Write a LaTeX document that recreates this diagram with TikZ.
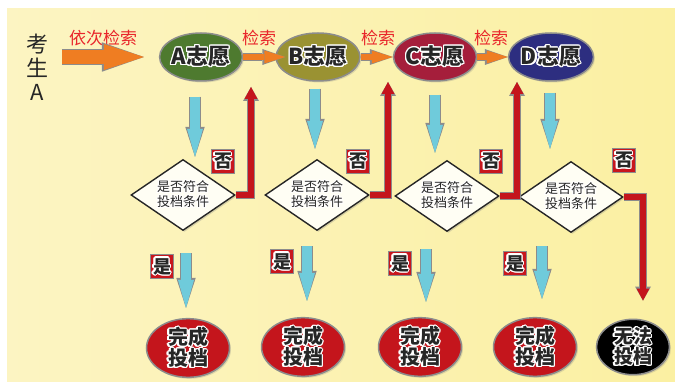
\documentclass[tikz,border=0pt]{standalone}
\usepackage{fontspec}
\setmainfont{Noto Sans CJK SC}
\usepackage{contour}
\contourlength{1.1pt}
\usetikzlibrary{shapes.geometric,arrows.meta,shadows}

\definecolor{bgleft}{HTML}{FCF4C2}
\definecolor{bgmid}{HTML}{FFFEF4}
\definecolor{bgright}{HTML}{FBF0A2}
\definecolor{wishA}{HTML}{4E7A2F}
\definecolor{wishB}{HTML}{9A9232}
\definecolor{wishC}{HTML}{A51E3B}
\definecolor{wishD}{HTML}{2D2E80}
\definecolor{okred}{HTML}{C4151C}
\definecolor{tagred}{HTML}{C8161D}
\definecolor{redtext}{HTML}{E9262B}
\definecolor{arrorange}{HTML}{EF7D22}
\definecolor{arrblue}{HTML}{6FCBDB}
\definecolor{edgegray}{HTML}{8C8C8C}

\tikzset{
  wish/.style={ellipse, draw=edgegray, line width=1.5pt, minimum width=78pt,
    minimum height=48pt, inner sep=0pt, text=black!85,
    font=\fontsize{22}{24}\selectfont\bfseries,
    drop shadow={opacity=0.25, shadow xshift=1.5pt, shadow yshift=-1.5pt}},
  check/.style={diamond, aspect=1.45, draw=black!85, line width=1.4pt,
    fill=bgmid, minimum width=104pt, minimum height=71pt, inner sep=0pt,
    align=center, text=black!85, font=\fontsize{13}{15}\selectfont,
    drop shadow={opacity=0.3, shadow xshift=1.5pt, shadow yshift=-1.5pt}},
  result/.style={ellipse, draw=edgegray, line width=1.5pt, minimum width=83pt,
    minimum height=50pt, inner sep=0pt, align=center, text=black!85,
    font=\fontsize{20}{21}\selectfont\bfseries,
    drop shadow={opacity=0.25, shadow xshift=1.5pt, shadow yshift=-1.5pt}},
  tag/.style={rectangle, fill=tagred, draw=edgegray, line width=1pt,
    minimum width=23pt, minimum height=24pt, inner sep=0pt, text=black!85,
    font=\fontsize{18}{18}\selectfont\bfseries},
  redlabel/.style={text=redtext, font=\fontsize{17}{18}\selectfont},
  bigarrow/.style={draw=arrorange, line width=14pt,
    -{Triangle[length=40pt, width=26pt, line width=0pt]},
    preaction={draw=edgegray, line width=16.5pt,
      -{Triangle[length=42pt, width=29.5pt, line width=0pt]}}},
  smallarrow/.style={draw=arrorange, line width=5.5pt,
    -{Triangle[length=21pt, width=13pt, line width=0pt]},
    preaction={draw=edgegray, line width=7.5pt,
      -{Triangle[length=23pt, width=16pt, line width=0pt]}}},
  downarrow/.style={draw=arrblue, line width=10pt,
    -{Triangle[length=28pt, width=16pt, line width=0pt]},
    preaction={draw=edgegray, line width=12.4pt,
      -{Triangle[length=30pt, width=19.5pt, line width=0pt]}}},
  backarrow/.style={draw=okred, line width=5.5pt,
    -{Triangle[length=12pt, width=13pt, line width=0pt]},
    preaction={draw=edgegray, line width=7.5pt,
      -{Triangle[length=14pt, width=16pt, line width=0pt]}}}
}

\begin{document}
\begin{tikzpicture}[x=1pt, y=-1pt]
  % canvas
  \useasboundingbox (0,0) rectangle (675,382);
  \fill[white] (0,0) rectangle (675,382);
  \shade[left color=bgleft, middle color=bgmid, right color=bgright]
    (7,9) rectangle (675,382);

  % candidate
  \node (stu) [align=center, text=black!85, font=\fontsize{22}{24}\selectfont]
    at (37,67) {考\\生\\A};
  \node (order) [redlabel] at (103,38) {依次检索};

  % wishes
  \node (A) [wish, fill=wishA] at (201,57) {\contour{white}{A志愿}};
  \node (B) [wish, fill=wishB] at (318,57) {\contour{white}{B志愿}};
  \node (C) [wish, fill=wishC] at (435,57) {\contour{white}{C志愿}};
  \node (D) [wish, fill=wishD] at (551,57) {\contour{white}{D志愿}};

  \node (sAB) [redlabel] at (259,38) {检索};
  \node (sBC) [redlabel] at (378,38) {检索};
  \node (sCD) [redlabel] at (491,38) {检索};

  % checks
  \node (dA) [check] at (183,195) {\contour{white}{是否符合}\\\contour{white}{投档条件}};
  \node (dB) [check] at (317,195) {\contour{white}{是否符合}\\\contour{white}{投档条件}};
  \node (dC) [check] at (447,196) {\contour{white}{是否符合}\\\contour{white}{投档条件}};
  \node (dD) [check] at (571,197) {\contour{white}{是否符合}\\\contour{white}{投档条件}};

  % outcomes
  \node (okA) [result, fill=okred] at (188,348) {\contour{white}{完成}\\\contour{white}{投档}};
  \node (okB) [result, fill=okred] at (303,347) {\contour{white}{完成}\\\contour{white}{投档}};
  \node (okC) [result, fill=okred] at (420,347) {\contour{white}{完成}\\\contour{white}{投档}};
  \node (okD) [result, fill=okred] at (535,347) {\contour{white}{完成}\\\contour{white}{投档}};
  \node (fail) [result, fill=black, minimum width=73pt, minimum height=40pt,
    font=\fontsize{19}{20}\selectfont\bfseries] at (633,347) {\contour{white}{无法}\\\contour{white}{投档}};

  % search arrows
  \coordinate (go) at (62,57);
  \draw[bigarrow] (go) -- ([xshift=-15pt]A.west);
  \draw[smallarrow] (A.east) -- ([xshift=10pt]B.west);
  \draw[smallarrow] (B.east) -- (C.west);
  \draw[smallarrow] (C.east) -- (D.west);

  \draw[downarrow, shorten <=15pt, shorten >=2pt] ([xshift=-6pt]A.south) -- ([xshift=12pt]dA.north);
  \draw[downarrow, shorten <=7pt, shorten >=10pt] ([xshift=-3pt]B.south) -- ([xshift=-2pt]dB.north);
  \draw[downarrow, shorten <=13pt, shorten >=7pt] (C.south) -- ([xshift=-12pt]dC.north);
  \draw[downarrow, shorten <=11pt, shorten >=12pt] ([xshift=-1pt]D.south) -- ([xshift=-21pt]dD.north);

  % no -> next wish
  \coordinate (backA) at (251,87);
  \coordinate (backB) at (388,82);
  \coordinate (backC) at (517,82);
  \draw[backarrow] (dA.east) -| (backA);
  \draw[backarrow] (dB.east) -| (backB);
  \draw[backarrow] (dC.east) -| (backC);
  \draw[backarrow] (dD.east) -| ([xshift=10pt, yshift=18pt]fail.north);

  % yes -> done
  \draw[downarrow, shorten <=22pt, shorten >=10pt] ([xshift=3pt]dA.south) -- ([xshift=-2pt]okA.north);
  \draw[downarrow, shorten <=15pt, shorten >=16pt] ([xshift=-10pt]dB.south) -- ([xshift=4pt]okB.north);
  \draw[downarrow, shorten <=17pt, shorten >=15pt] ([xshift=-21pt]dC.south) -- ([xshift=6pt]okC.north);
  \draw[downarrow, shorten <=13pt, shorten >=18pt] ([xshift=-29pt]dD.south) -- ([xshift=7pt]okD.north);

  % tags
  \node (noA) [tag] at (223,162) {\contour{white}{否}};
  \node (noB) [tag] at (358,162) {\contour{white}{否}};
  \node (noC) [tag] at (491,162) {\contour{white}{否}};
  \node (noD) [tag] at (624,161) {\contour{white}{否}};
  \node (yesA) [tag] at (162,267) {\contour{white}{是}};
  \node (yesB) [tag] at (282,262) {\contour{white}{是}};
  \node (yesC) [tag] at (400,264) {\contour{white}{是}};
  \node (yesD) [tag] at (515,264) {\contour{white}{是}};
\end{tikzpicture}
\end{document}
